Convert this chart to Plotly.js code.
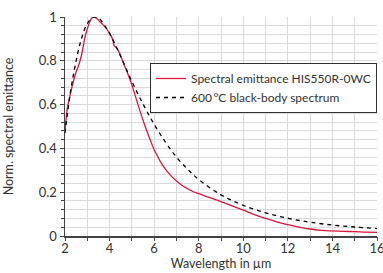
<!DOCTYPE html>
<html>
<head>
<meta charset="utf-8">
<script src="https://cdn.plot.ly/plotly-3.0.1.min.js"></script>
<style>html,body{margin:0;padding:0;background:#fff;}#chart{width:383px;height:273px;}</style>
</head>
<body>
<div id="chart"></div>
<script>
// Spectral emittance HIS550R-0WC
var wlSample = [2.0, 2.1, 2.2, 2.3, 2.5, 2.6, 2.75, 2.9, 3.0, 3.1, 3.2, 3.3, 3.4, 3.6, 3.8, 4.0, 4.15, 4.2, 4.3, 4.45, 4.6, 4.8, 5.0, 5.2, 5.4, 5.6, 5.8, 6.0, 6.4, 6.8, 7.2, 7.6, 8.0, 8.5, 9.0, 9.5, 10.0, 10.5, 11.0, 11.5, 12.0, 12.5, 13.0, 13.5, 14.0, 14.5, 15.0, 15.5, 16.0];
var emSample = [0.475, 0.58, 0.63, 0.675, 0.75, 0.775, 0.83, 0.91, 0.945, 0.975, 0.995, 1.0, 0.995, 0.975, 0.955, 0.925, 0.895, 0.87, 0.86, 0.835, 0.795, 0.745, 0.69, 0.625, 0.56, 0.5, 0.445, 0.395, 0.32, 0.27, 0.235, 0.21, 0.193, 0.175, 0.157, 0.138, 0.118, 0.098, 0.08, 0.065, 0.052, 0.041, 0.032, 0.026, 0.023, 0.021, 0.02, 0.018, 0.017];
// 600 °C black-body spectrum
var wlBody = [2.0, 2.25, 2.5, 2.75, 3.0, 3.25, 3.5, 3.75, 4.0, 4.5, 5.0, 5.5, 6.0, 6.5, 7.0, 7.5, 8.0, 9.0, 10.0, 11.0, 12.0, 13.0, 14.0, 15.0, 16.0];
var emBody = [0.47, 0.66, 0.80, 0.905, 0.97, 0.998, 0.995, 0.965, 0.925, 0.82, 0.706, 0.603, 0.51, 0.43, 0.36, 0.305, 0.258, 0.188, 0.14, 0.106, 0.081, 0.063, 0.05, 0.041, 0.034];
var xTickVals = [2, 4, 6, 8, 10, 12, 14, 16];
var yTickVals = [0, 0.2, 0.4, 0.6, 0.8, 1];
var seriesNames = ['Spectral emittance HIS550R-0WC', '600\u2009°C black-body spectrum'];

var font = 'Lato, "Open Sans", sans-serif';
var traces = [
  {x: wlSample, y: emSample, name: seriesNames[0], mode: 'lines', line: {color: '#d7163c', width: 1.3, shape: 'spline'}},
  {x: wlBody, y: emBody, name: seriesNames[1], mode: 'lines', line: {color: '#000', width: 1.3, dash: '4px,4px', shape: 'spline'}}
];
var layout = {
  width: 383, height: 273,
  margin: {l: 65, r: 6, t: 17, b: 37},
  paper_bgcolor: '#fff', plot_bgcolor: '#fff',
  font: {family: font, size: 12, color: '#333'},
  showlegend: true,
  legend: {x: 1, xanchor: 'right', y: 0.79, yanchor: 'top', bgcolor: '#fff', bordercolor: '#333', borderwidth: 1,
    font: {size: 12, color: '#333'}, tracegroupgap: 0, itemwidth: 30},
  xaxis: {
    range: [2, 16], tickvals: xTickVals, ticktext: xTickVals.map(String), ticklabeloverflow: 'allow',
    showline: true, linecolor: '#444', linewidth: 1.5, ticks: '',
    showgrid: true, gridcolor: '#dadada', gridwidth: 1, zeroline: false,
    minor: {dtick: 1, tick0: 2, showgrid: true, gridcolor: '#dadada'},
    title: {text: 'Wavelength in µm', font: {size: 12.5, color: '#333'}, standoff: 1},
    tickfont: {size: 13, color: '#333'}, automargin: false
  },
  xaxis2: {
    overlaying: 'x', anchor: 'y', side: 'bottom', range: [2, 16], dtick: 1, tick0: 2,
    showticklabels: false, showgrid: false, zeroline: false, showline: false,
    ticks: 'outside', ticklen: 4, tickcolor: '#444', tickwidth: 1
  },
  yaxis: {
    range: [0, 1], tickvals: yTickVals, ticktext: ['0', '0.2', '0.4', '0.6', '0.8', '1'],
    showline: true, linecolor: '#444', linewidth: 1.5, ticks: 'outside', ticklen: 4, tickcolor: '#444',
    showgrid: true, gridcolor: '#dadada', gridwidth: 1, zeroline: false,
    minor: {dtick: 0.04, tick0: 0, showgrid: true, gridcolor: '#dadada', ticks: 'outside', ticklen: 3, tickcolor: '#444'},
    title: {text: 'Norm. spectral emittance', font: {size: 12.5, color: '#333'}, standoff: 22},
    tickfont: {size: 13, color: '#333'}, automargin: false
  }
};
// invisible helper trace so the tick-only overlay axis is drawn
traces.push({x: [xTickVals[0]], y: [yTickVals[0]], xaxis: 'x2', yaxis: 'y', mode: 'markers', marker: {opacity: 0}, showlegend: false, hoverinfo: 'skip'});
Plotly.newPlot('chart', traces, layout, {staticPlot: true, displayModeBar: false});
</script>
</body>
</html>
